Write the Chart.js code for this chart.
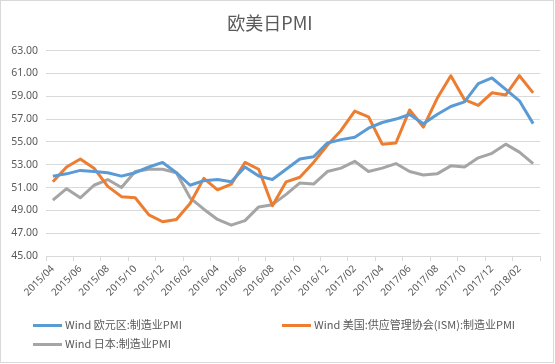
<!DOCTYPE html>
<html>
<head>
<meta charset="utf-8">
<script src="https://cdn.jsdelivr.net/npm/chart.js@4"></script>
<style>
    html, body { margin: 0; padding: 0; background: #fff; }
    #wrap { position: relative; width: 555px; height: 364px; }
    #frame { position: absolute; left: 0; top: 0; width: 554px; height: 363px; box-sizing: border-box; border: 1px solid #d9d9d9; pointer-events: none; }
    .legend-item { position: absolute; font: 11px "Noto Sans CJK SC", "Noto Sans", sans-serif; color: #595959; white-space: nowrap; line-height: 16px; }
    .legend-item i { display: inline-block; width: 29px; height: 3px; vertical-align: middle; margin-right: 3px; position: relative; top: -1px; }
</style>
</head>
<body>
<div id="wrap">
    <canvas id="pmiChart" width="555" height="364"></canvas>
    <div id="legend"></div>
    <div id="frame"></div>
</div>
<script>
// Months, 2015/04 - 2018/03
const months = [
    '2015/04', '2015/05', '2015/06', '2015/07', '2015/08', '2015/09', '2015/10', '2015/11', '2015/12',
    '2016/01', '2016/02', '2016/03', '2016/04', '2016/05', '2016/06', '2016/07', '2016/08', '2016/09',
    '2016/10', '2016/11', '2016/12', '2017/01', '2017/02', '2017/03', '2017/04', '2017/05', '2017/06',
    '2017/07', '2017/08', '2017/09', '2017/10', '2017/11', '2017/12', '2018/01', '2018/02', '2018/03'
];

// Series values
const euroPmi = [
    52.0, 52.2, 52.5, 52.4, 52.3, 52.0, 52.3, 52.8, 53.2,
    52.3, 51.2, 51.6, 51.7, 51.5, 52.8, 52.0, 51.7, 52.6,
    53.5, 53.7, 54.9, 55.2, 55.4, 56.2, 56.7, 57.0, 57.4,
    56.6, 57.4, 58.1, 58.5, 60.1, 60.6, 59.6, 58.6, 56.6
];
const usIsmPmi = [
    51.5, 52.8, 53.5, 52.7, 51.1, 50.2, 50.1, 48.6, 48.0,
    48.2, 49.6, 51.8, 50.8, 51.3, 53.2, 52.6, 49.4, 51.5,
    51.9, 53.2, 54.7, 56.0, 57.7, 57.2, 54.8, 54.9, 57.8,
    56.3, 58.8, 60.8, 58.7, 58.2, 59.3, 59.1, 60.8, 59.3
];
const japanPmi = [
    49.9, 50.9, 50.1, 51.2, 51.7, 51.0, 52.4, 52.6, 52.6,
    52.3, 50.1, 49.1, 48.2, 47.7, 48.1, 49.3, 49.5, 50.4,
    51.4, 51.3, 52.4, 52.7, 53.3, 52.4, 52.7, 53.1, 52.4,
    52.1, 52.2, 52.9, 52.8, 53.6, 54.0, 54.8, 54.1, 53.1
];

const seriesNames = ['Wind 欧元区:制造业PMI', 'Wind 美国:供应管理协会(ISM):制造业PMI', 'Wind 日本:制造业PMI'];
const seriesColors = ['#5b9bd5', '#ed7d31', '#a5a5a5'];

const textColor = '#595959';
const gridColor = '#d9d9d9';

function makeDataset(i, values) {
    return {
        label: seriesNames[i],
        data: values,
        borderColor: seriesColors[i],
        backgroundColor: seriesColors[i],
        borderWidth: 3,
        borderJoinStyle: 'round',
        pointRadius: 0,
        tension: 0,
        fill: false
    };
}

new Chart(document.getElementById('pmiChart').getContext('2d'), {
    type: 'line',
    data: {
        labels: months,
        datasets: [
            makeDataset(0, euroPmi),
            makeDataset(1, usIsmPmi),
            makeDataset(2, japanPmi)
        ]
    },
    options: {
        responsive: false,
        animation: false,
        layout: { padding: { left: 0, right: 15, top: 0, bottom: 48 } },
        plugins: {
            legend: { display: false },
            tooltip: { enabled: false },
            title: {
                display: true,
                text: '欧美日PMI',
                color: textColor,
                font: { family: '"Noto Sans CJK SC", "Noto Sans", sans-serif', size: 18, weight: 'normal' },
                padding: { top: 12, bottom: 17 }
            }
        },
        scales: {
            x: {
                offset: true,
                grid: {
                    offset: true,
                    drawOnChartArea: false,
                    tickLength: 5,
                    color: c => (c.index === undefined || c.index % 2 === 0) ? gridColor : 'rgba(0,0,0,0)'
                },
                border: { display: true, color: gridColor },
                ticks: {
                    autoSkip: false,
                    maxRotation: 45,
                    minRotation: 45,
                    color: textColor,
                    padding: 2,
                    font: { family: '"Noto Sans", sans-serif', size: 10 },
                    callback: function(value, index) {
                        return index % 2 === 0 ? this.getLabelForValue(value) : '';
                    }
                },
                afterFit: s => { s.height = 60; }
            },
            y: {
                min: 45,
                max: 63,
                grid: { color: gridColor, drawTicks: false },
                border: { display: false },
                ticks: {
                    stepSize: 2,
                    padding: 8,
                    color: textColor,
                    font: { family: '"Noto Sans", sans-serif', size: 10.5 },
                    callback: v => v.toFixed(2)
                },
                afterFit: s => { s.width = 46; }
            }
        }
    }
});

// Legend laid out in two columns like the reference
const legendSpots = [[33, 316], [282, 316], [33, 335]];
const legendBox = document.getElementById('legend');
seriesNames.forEach((name, i) => {
    const item = document.createElement('div');
    item.className = 'legend-item';
    item.style.left = legendSpots[i][0] + 'px';
    item.style.top = legendSpots[i][1] + 'px';
    item.innerHTML = `<i style="background:${seriesColors[i]}"></i>${name}`;
    legendBox.appendChild(item);
});
</script>
</body>
</html>
